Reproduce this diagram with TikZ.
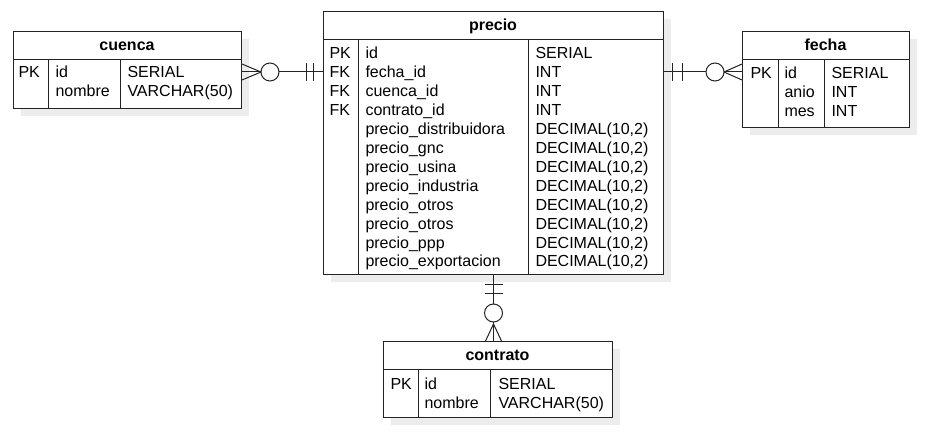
\documentclass[tikz,border=0pt]{standalone}
\usepackage{fontspec}
\setmainfont{Liberation Sans}
\usetikzlibrary{calc}
\definecolor{linec}{RGB}{35,35,35}
\definecolor{shadowc}{RGB}{236,236,236}
\newcommand\decty{DECIMAL(10,2)}
\begin{document}
\begin{tikzpicture}[x=1pt,y=-1pt,line width=1pt,
  tbl/.style={draw=linec,fill=white,inner sep=0pt,anchor=north west},
  shd/.style={fill=shadowc,draw=none},
  txt/.style={anchor=base west,inner sep=0pt,font=\fontsize{16}{19}\selectfont,text=black},
  ttl/.style={anchor=base,inner sep=0pt,font=\fontsize{16}{19}\selectfont\bfseries,text=black},
  rel/.style={draw=linec,line width=1pt}]
\useasboundingbox[fill=white] (0,0) rectangle (925,438);

% ---------- shadows ----------
\fill[shd] (21,39) rectangle (249,116);
\fill[shd] (331,19) rectangle (671,282);
\fill[shd] (750,39) rectangle (917,135);
\fill[shd] (391,349) rectangle (620,425);

% ---------- cuenca ----------
\node[tbl,minimum width=228pt,minimum height=77pt] (cuenca) at (13,31) {};
\draw[linec] (13,60) -- (241,60) (48,60) -- (48,108) (120,60) -- (120,108);
\node[ttl] (cuencaT) at (127,50.5) {cuenca};
\node[txt] (cuencaK) at (18,78) {PK};
\node[txt] (cuencaN1) at (55,78) {id};
\node[txt] (cuencaN2) at (55,97) {nombre};
\node[txt] (cuencaY1) at (127,78) {SERIAL};
\node[txt] (cuencaY2) at (127,97) {VARCHAR(50)};

% ---------- precio ----------
\node[tbl,minimum width=340pt,minimum height=263pt] (precio) at (323,11) {};
\draw[linec] (323,40) -- (663,40) (358,40) -- (358,274) (528,40) -- (528,274);
\node[ttl] (precioT) at (493,30.5) {precio};
\foreach \k [count=\i from 0] in {PK,FK,FK,FK}
  \node[txt] (precioK\i) at (329,59+18.9*\i) {\k};
\foreach \n/\t [count=\i from 0] in {id/SERIAL,fecha\_id/INT,cuenca\_id/INT,contrato\_id/INT,
    precio\_distribuidora/\decty,precio\_gnc/\decty,precio\_usina/\decty,precio\_industria/\decty,
    precio\_otros/\decty,precio\_otros/\decty,precio\_ppp/\decty,precio\_exportacion/\decty}{
  \node[txt] (precioN\i) at (365,59+18.9*\i) {\n};
  \node[txt] (precioY\i) at (535,59+18.9*\i) {\t};
}

% ---------- fecha ----------
\node[tbl,minimum width=167pt,minimum height=96pt] (fecha) at (742,31) {};
\draw[linec] (742,60) -- (909,60) (778,60) -- (778,127) (824,60) -- (824,127);
\node[ttl] (fechaT) at (825.5,50.5) {fecha};
\node[txt] (fechaK) at (750,79) {PK};
\node[txt] (fechaN1) at (784,79) {id};
\node[txt] (fechaN2) at (784,98) {anio};
\node[txt] (fechaN3) at (784,117) {mes};
\node[txt] (fechaY1) at (831,79) {SERIAL};
\node[txt] (fechaY2) at (831,98) {INT};
\node[txt] (fechaY3) at (831,117) {INT};

% ---------- contrato ----------
\node[tbl,minimum width=229pt,minimum height=76pt] (contrato) at (383,341) {};
\draw[linec] (383,369) -- (612,369) (418,369) -- (418,417) (490,369) -- (490,417);
\node[ttl] (contratoT) at (497.5,360) {contrato};
\node[txt] (contratoK) at (390,389) {PK};
\node[txt] (contratoN1) at (424,389) {id};
\node[txt] (contratoN2) at (424,408) {nombre};
\node[txt] (contratoY1) at (498,389) {SERIAL};
\node[txt] (contratoY2) at (498,408) {VARCHAR(50)};

% ---------- relations ----------
% cuenca (many, optional) -- precio (one)
\coordinate (cA) at (cuenca.east |- 0,72);
\coordinate (pA) at (precio.west |- 0,72);
\draw[rel] (cA) -- (pA);
\draw[rel] ($(cA)+(0,-8)$) -- ($(cA)+(19,0)$) -- ($(cA)+(0,8)$);
\draw[rel,fill=white] ($(cA)+(28,0)$) circle[radius=9pt];
\draw[rel] ($(pA)+(-10,-9)$) -- ($(pA)+(-10,9)$) ($(pA)+(-17,-9)$) -- ($(pA)+(-17,9)$);

% precio (one) -- fecha (many, optional)
\coordinate (pB) at (precio.east |- 0,72);
\coordinate (fB) at (fecha.west |- 0,72);
\draw[rel] (pB) -- (fB);
\draw[rel] ($(fB)+(0,-8)$) -- ($(fB)+(-18,0)$) -- ($(fB)+(0,8)$);
\draw[rel,fill=white] ($(fB)+(-27,0)$) circle[radius=9pt];
\draw[rel] ($(pB)+(8,-9)$) -- ($(pB)+(8,9)$) ($(pB)+(18,-9)$) -- ($(pB)+(18,9)$);

% precio (one) -- contrato (many, optional)
\coordinate (pC) at (precio.south);
\coordinate (kC) at (contrato.north -| precio.south);
\draw[rel] (pC) -- (kC);
\draw[rel] ($(kC)+(-8,0)$) -- ($(kC)+(0,-17)$) -- ($(kC)+(8,0)$);
\draw[rel,fill=white] ($(kC)+(0,-28)$) circle[radius=9pt];
\draw[rel] ($(pC)+(-9,9)$) -- ($(pC)+(9,9)$) ($(pC)+(-9,18.5)$) -- ($(pC)+(9,18.5)$);
\end{tikzpicture}
\end{document}
